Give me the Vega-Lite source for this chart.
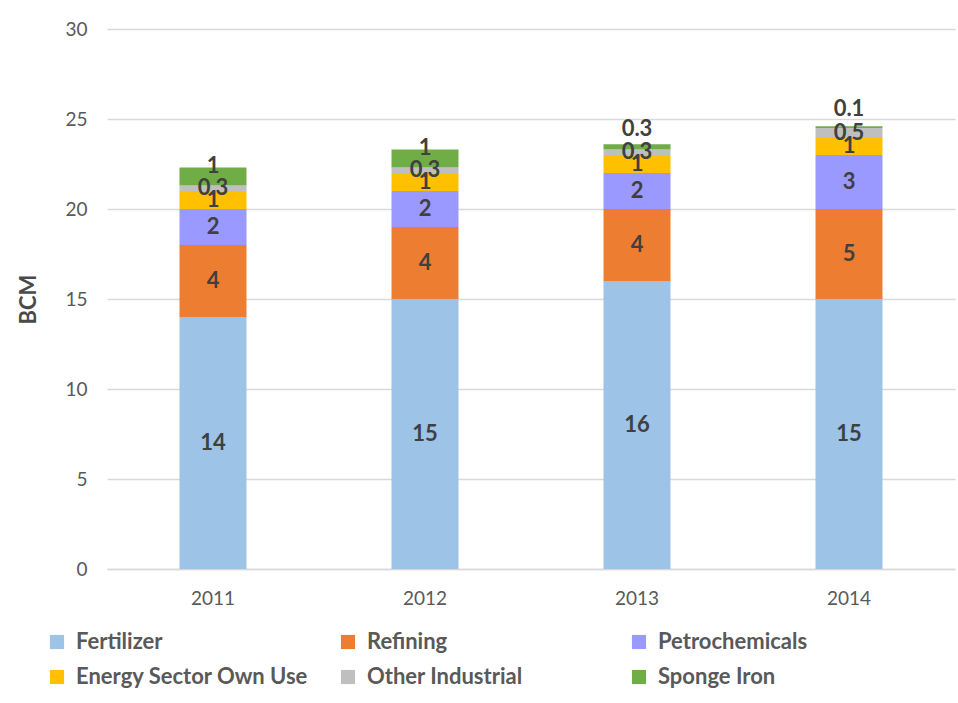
{
  "$schema": "https://vega.github.io/schema/vega-lite/v6.json",
  "autosize": {"type": "none"},
  "width": 848,
  "height": 540,
  "padding": {"left": 107, "top": 29, "right": 3, "bottom": 134},
  "background": "white",
  "config": {
    "view": {"stroke": null},
    "font": "Lato",
    "legend": {
      "orient": "none",
      "legendX": -61,
      "legendY": 602,
      "direction": "horizontal",
      "columns": 3,
      "gridAlign": "all",
      "columnPadding": 28,
      "rowPadding": 13,
      "symbolType": "square",
      "symbolSize": 200,
      "symbolStrokeWidth": 0,
      "labelOffset": 8,
      "labelFont": "Lato",
      "labelFontSize": 22,
      "labelFontWeight": "bold",
      "labelColor": "#595959",
      "labelLimit": 400,
      "padding": 0
    }
  },
  "data": {
    "values": [
      {"year": "2011", "sector": "Fertilizer", "value": 14},
      {"year": "2011", "sector": "Refining", "value": 4},
      {"year": "2011", "sector": "Petrochemicals", "value": 2},
      {"year": "2011", "sector": "Energy Sector Own Use", "value": 1},
      {"year": "2011", "sector": "Other Industrial", "value": 0.3},
      {"year": "2011", "sector": "Sponge Iron", "value": 1},
      {"year": "2012", "sector": "Fertilizer", "value": 15},
      {"year": "2012", "sector": "Refining", "value": 4},
      {"year": "2012", "sector": "Petrochemicals", "value": 2},
      {"year": "2012", "sector": "Energy Sector Own Use", "value": 1},
      {"year": "2012", "sector": "Other Industrial", "value": 0.3},
      {"year": "2012", "sector": "Sponge Iron", "value": 1},
      {"year": "2013", "sector": "Fertilizer", "value": 16},
      {"year": "2013", "sector": "Refining", "value": 4},
      {"year": "2013", "sector": "Petrochemicals", "value": 2},
      {"year": "2013", "sector": "Energy Sector Own Use", "value": 1},
      {"year": "2013", "sector": "Other Industrial", "value": 0.3},
      {"year": "2013", "sector": "Sponge Iron", "value": 0.3},
      {"year": "2014", "sector": "Fertilizer", "value": 15},
      {"year": "2014", "sector": "Refining", "value": 5},
      {"year": "2014", "sector": "Petrochemicals", "value": 3},
      {"year": "2014", "sector": "Energy Sector Own Use", "value": 1},
      {"year": "2014", "sector": "Other Industrial", "value": 0.5},
      {"year": "2014", "sector": "Sponge Iron", "value": 0.1}
    ]
  },
  "transform": [
    {"calculate": "indexof(['Fertilizer','Refining','Petrochemicals','Energy Sector Own Use','Other Industrial','Sponge Iron'], datum.sector)", "as": "rank"}
  ],
  "encoding": {
    "x": {
      "field": "year",
      "type": "ordinal",
      "scale": {"paddingInner": 0.684, "paddingOuter": 0.342},
      "axis": {
        "title": null,
        "labelAngle": 0,
        "labelFont": "Lato",
        "labelFontSize": 19,
        "labelColor": "#595959",
        "ticks": false,
        "tickSize": 0,
        "labelPadding": 20,
        "domain": true,
        "domainColor": "#d9d9d9",
        "domainWidth": 1.5
      }
    },
    "order": {"field": "rank", "type": "quantitative", "sort": "ascending"}
  },
  "layer": [
    {
      "mark": {"type": "bar"},
      "encoding": {
        "y": {
          "field": "value",
          "type": "quantitative",
          "stack": "zero",
          "scale": {"domain": [0, 30], "nice": false},
          "axis": {
            "values": [0, 5, 10, 15, 20, 25, 30],
            "title": "BCM",
            "titleFont": "Lato",
            "titleFontSize": 22,
            "titleFontWeight": "bold",
            "titleColor": "#4a4a4a",
            "titlePadding": 24,
            "labelFont": "Lato",
            "labelFontSize": 19,
            "labelColor": "#595959",
            "labelPadding": 20,
            "ticks": false,
            "tickSize": 0,
            "domain": false,
            "grid": true,
            "gridColor": "#d9d9d9",
            "gridWidth": 1.3
          }
        },
        "color": {
          "field": "sector",
          "type": "nominal",
          "sort": ["Fertilizer", "Refining", "Petrochemicals", "Energy Sector Own Use", "Other Industrial", "Sponge Iron"],
          "scale": {
            "domain": ["Fertilizer", "Refining", "Petrochemicals", "Energy Sector Own Use", "Other Industrial", "Sponge Iron"],
            "range": ["#9DC3E6", "#ED7D31", "#9999FF", "#FFC000", "#BFBFBF", "#70AD47"]
          },
          "legend": {"title": null}
        }
      }
    },
    {
      "mark": {"type": "text", "font": "Lato", "fontSize": 22, "fontWeight": "bold", "color": "#404040", "align": "center", "baseline": "middle"},
      "encoding": {
        "y": {"field": "value", "type": "quantitative", "stack": "zero", "bandPosition": 0.5},
        "detail": {"field": "sector", "type": "nominal"},
        "text": {"condition": {"test": "datum.sector === 'Sponge Iron'", "value": ""}, "field": "value", "type": "quantitative"}
      }
    },
    {
      "mark": {"type": "text", "font": "Lato", "fontSize": 22, "fontWeight": "bold", "color": "#404040", "align": "center", "baseline": "middle", "dy": -11},
      "encoding": {
        "y": {"field": "value", "type": "quantitative", "stack": "zero", "bandPosition": 0.5},
        "detail": {"field": "sector", "type": "nominal"},
        "text": {"condition": {"test": "datum.sector === 'Sponge Iron' && (datum.year === '2011' || datum.year === '2012')", "field": "value", "type": "quantitative"}, "value": ""}
      }
    },
    {
      "mark": {"type": "text", "font": "Lato", "fontSize": 22, "fontWeight": "bold", "color": "#404040", "align": "center", "baseline": "middle", "dy": -18},
      "encoding": {
        "y": {"field": "value", "type": "quantitative", "stack": "zero", "bandPosition": 0.5},
        "detail": {"field": "sector", "type": "nominal"},
        "text": {"condition": {"test": "datum.sector === 'Sponge Iron' && (datum.year === '2013' || datum.year === '2014')", "field": "value", "type": "quantitative"}, "value": ""}
      }
    }
  ]
}
